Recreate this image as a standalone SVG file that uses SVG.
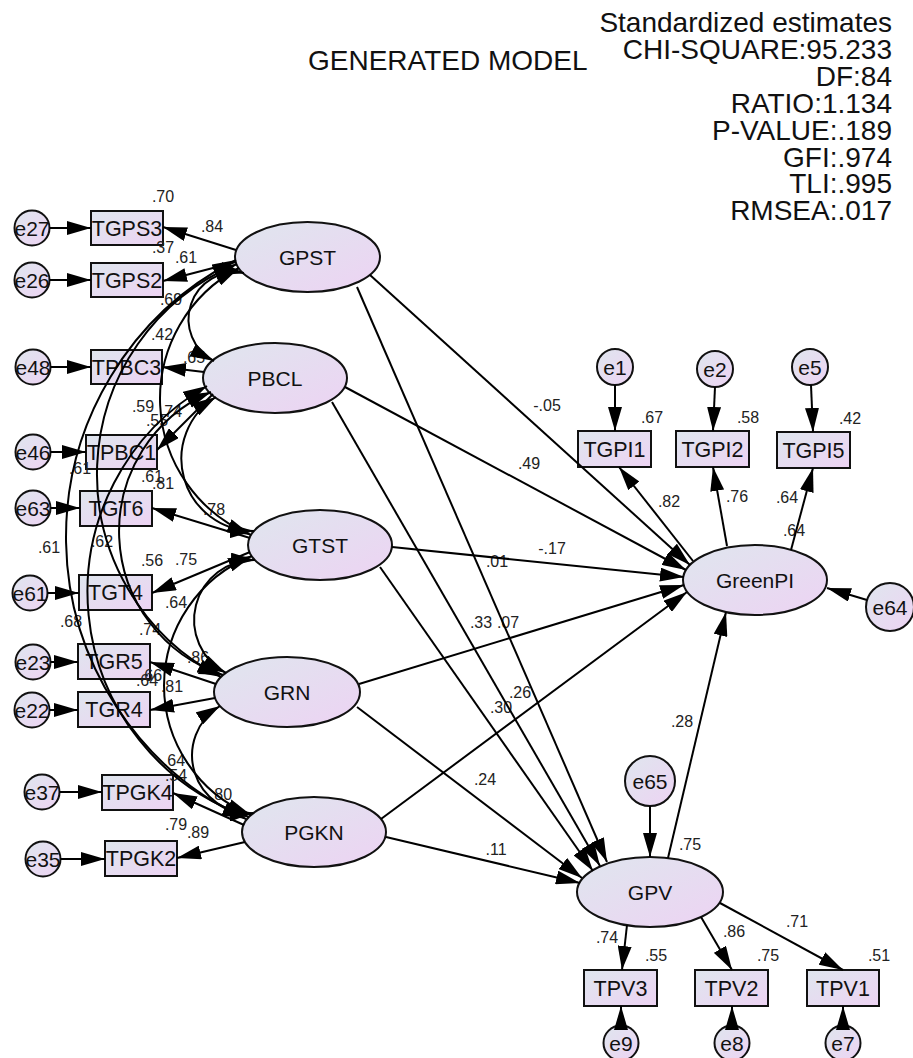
<svg xmlns="http://www.w3.org/2000/svg" width="913" height="1058" viewBox="0 0 913 1058">
<style>
.n{fill:url(#g);stroke:#111;stroke-width:2}
.t{font-family:"Liberation Sans",Arial,sans-serif;font-size:21px;text-anchor:middle;fill:#111}
.b{font-size:21.5px}
.v{font-family:"Liberation Sans",Arial,sans-serif;font-size:16px;text-anchor:middle;fill:#222}
.h{font-family:"Liberation Sans",Arial,sans-serif;font-size:28px;fill:#111}
.c path,.c line{fill:none;stroke:#000;stroke-width:2}
.c line{marker-end:url(#ah)}
.c path{marker-start:url(#ah);marker-end:url(#ah)}
</style>
<defs>
<linearGradient id="g" x1="0" y1="0" x2="1" y2="1">
<stop offset="0" stop-color="#dfe6ee"/>
<stop offset="1" stop-color="#edd3f3"/>
</linearGradient>
<marker id="ah" viewBox="0 0 24 14" refX="24" refY="7" markerWidth="24" markerHeight="14" markerUnits="userSpaceOnUse" orient="auto-start-reverse">
<path d="M0,0L24,7L0,14z" fill="#000"/>
</marker>
</defs>
<rect width="913" height="1058" fill="#fff"/>

<g id="header">
<text class="h" x="308" y="70">GENERATED MODEL</text>
<text class="h" x="892" y="32" text-anchor="end">Standardized estimates</text>
<text class="h" x="892" y="59" text-anchor="end">CHI-SQUARE:95.233</text>
<text class="h" x="892" y="86" text-anchor="end">DF:84</text>
<text class="h" x="892" y="113" text-anchor="end">RATIO:1.134</text>
<text class="h" x="892" y="140" text-anchor="end">P-VALUE:.189</text>
<text class="h" x="892" y="167" text-anchor="end">GFI:.974</text>
<text class="h" x="892" y="193" text-anchor="end">TLI:.995</text>
<text class="h" x="892" y="220" text-anchor="end">RMSEA:.017</text>
</g>

<g id="GPST"><ellipse class="n" cx="307.5" cy="257" rx="72.5" ry="35"/><text class="t" x="307.5" y="264.5">GPST</text></g>
<g id="PBCL"><ellipse class="n" cx="275" cy="378" rx="72" ry="35"/><text class="t" x="275" y="385.5">PBCL</text></g>
<g id="GTST"><ellipse class="n" cx="320" cy="545" rx="72" ry="35"/><text class="t" x="320" y="552.5">GTST</text></g>
<g id="GRN"><ellipse class="n" cx="287" cy="692" rx="73" ry="35"/><text class="t" x="287" y="699.5">GRN</text></g>
<g id="PGKN"><ellipse class="n" cx="314" cy="832" rx="72" ry="35"/><text class="t" x="314" y="839.5">PGKN</text></g>
<g id="GreenPI"><ellipse class="n" cx="755" cy="580" rx="72" ry="35"/><text class="t" x="755" y="587.5">GreenPI</text></g>
<g id="GPV"><ellipse class="n" cx="650" cy="892" rx="73" ry="35"/><text class="t" x="650" y="899.5">GPV</text></g>

<g id="TGPS3"><rect class="n" x="91" y="211" width="72" height="34"/><text class="t b" x="127" y="235.5">TGPS3</text></g>
<g id="TGPS2"><rect class="n" x="91" y="263" width="72" height="34"/><text class="t b" x="127" y="287.5">TGPS2</text></g>
<g id="TPBC3"><rect class="n" x="91" y="350" width="71" height="34"/><text class="t b" x="126.5" y="374.5">TPBC3</text></g>
<g id="TPBC1"><rect class="n" x="86" y="435" width="71" height="34"/><text class="t b" x="121.5" y="459.5">TPBC1</text></g>
<g id="TGT6"><rect class="n" x="80" y="491" width="72" height="35"/><text class="t b" x="116" y="516">TGT6</text></g>
<g id="TGT4"><rect class="n" x="79" y="575" width="73" height="35"/><text class="t b" x="115.5" y="600">TGT4</text></g>
<g id="TGR5"><rect class="n" x="78" y="644" width="72" height="35"/><text class="t b" x="114" y="669">TGR5</text></g>
<g id="TGR4"><rect class="n" x="78" y="692" width="72" height="35"/><text class="t b" x="114" y="717">TGR4</text></g>
<g id="TPGK4"><rect class="n" x="102" y="775" width="71" height="35"/><text class="t b" x="137.5" y="800">TPGK4</text></g>
<g id="TPGK2"><rect class="n" x="105" y="841" width="72" height="35"/><text class="t b" x="141" y="866">TPGK2</text></g>
<g id="TGPI1"><rect class="n" x="578" y="431" width="73" height="36"/><text class="t b" x="614.5" y="456.5">TGPI1</text></g>
<g id="TGPI2"><rect class="n" x="676" y="431" width="73" height="36"/><text class="t b" x="712.5" y="456.5">TGPI2</text></g>
<g id="TGPI5"><rect class="n" x="777" y="432" width="73" height="36"/><text class="t b" x="813.5" y="457.5">TGPI5</text></g>
<g id="TPV3"><rect class="n" x="584" y="970" width="73" height="36"/><text class="t b" x="620.5" y="995.5">TPV3</text></g>
<g id="TPV2"><rect class="n" x="695" y="970" width="73" height="36"/><text class="t b" x="731.5" y="995.5">TPV2</text></g>
<g id="TPV1"><rect class="n" x="807" y="970" width="72" height="36"/><text class="t b" x="843" y="995.5">TPV1</text></g>

<g id="e27"><circle class="n" cx="32" cy="228" r="17.5"/><text class="t" x="32" y="235.5">e27</text></g>
<g id="e26"><circle class="n" cx="32" cy="280" r="17.5"/><text class="t" x="32" y="287.5">e26</text></g>
<g id="e48"><circle class="n" cx="33" cy="367" r="17.5"/><text class="t" x="33" y="374.5">e48</text></g>
<g id="e46"><circle class="n" cx="33" cy="452" r="17.5"/><text class="t" x="33" y="459.5">e46</text></g>
<g id="e63"><circle class="n" cx="33" cy="508" r="17.5"/><text class="t" x="33" y="515.5">e63</text></g>
<g id="e61"><circle class="n" cx="30" cy="593" r="17.5"/><text class="t" x="30" y="600.5">e61</text></g>
<g id="e23"><circle class="n" cx="33" cy="662" r="17.5"/><text class="t" x="33" y="669.5">e23</text></g>
<g id="e22"><circle class="n" cx="32" cy="710" r="17.5"/><text class="t" x="32" y="717.5">e22</text></g>
<g id="e37"><circle class="n" cx="42" cy="792" r="17.5"/><text class="t" x="42" y="799.5">e37</text></g>
<g id="e35"><circle class="n" cx="43" cy="859" r="17.5"/><text class="t" x="43" y="866.5">e35</text></g>
<g id="e1"><circle class="n" cx="615" cy="367" r="18"/><text class="t" x="615" y="374.5">e1</text></g>
<g id="e2"><circle class="n" cx="715" cy="369" r="18"/><text class="t" x="715" y="376.5">e2</text></g>
<g id="e5"><circle class="n" cx="810" cy="367" r="18"/><text class="t" x="810" y="374.5">e5</text></g>
<g id="e64"><circle class="n" cx="890" cy="607" r="24"/><text class="t" x="890" y="614.5">e64</text></g>
<g id="e65"><circle class="n" cx="650" cy="781" r="25"/><text class="t" x="650" y="788.5">e65</text></g>
<g id="e9"><circle class="n" cx="621" cy="1043" r="17.5"/><text class="t" x="621" y="1050.5">e9</text></g>
<g id="e8"><circle class="n" cx="732" cy="1043" r="17.5"/><text class="t" x="732" y="1050.5">e8</text></g>
<g id="e7"><circle class="n" cx="843" cy="1043" r="17.5"/><text class="t" x="843" y="1050.5">e7</text></g>

<g id="labels">
<text class="v" x="163" y="202">.70</text>
<text class="v" x="212" y="232">.84</text>
<text class="v" x="163" y="253">.37</text>
<text class="v" x="186" y="263">.61</text>
<text class="v" x="171" y="305">.69</text>
<text class="v" x="162" y="340">.42</text>
<text class="v" x="194" y="363">.65</text>
<text class="v" x="143" y="412">.59</text>
<text class="v" x="171" y="417">.74</text>
<text class="v" x="157" y="426">.55</text>
<text class="v" x="152" y="482">.61</text>
<text class="v" x="163" y="489">.81</text>
<text class="v" x="80" y="474">.61</text>
<text class="v" x="214" y="515">.78</text>
<text class="v" x="49" y="553">.61</text>
<text class="v" x="102" y="547">.62</text>
<text class="v" x="152" y="566">.56</text>
<text class="v" x="186" y="565">.75</text>
<text class="v" x="176" y="608">.64</text>
<text class="v" x="71" y="627">.68</text>
<text class="v" x="150" y="635">.74</text>
<text class="v" x="198" y="663">.86</text>
<text class="v" x="151" y="681">.66</text>
<text class="v" x="147" y="686">.64</text>
<text class="v" x="172" y="692">.81</text>
<text class="v" x="174" y="766">.64</text>
<text class="v" x="176" y="781">.54</text>
<text class="v" x="221" y="800">.80</text>
<text class="v" x="176" y="830">.79</text>
<text class="v" x="198" y="838">.89</text>
<text class="v" x="547" y="411">-.05</text>
<text class="v" x="529" y="469">.49</text>
<text class="v" x="552" y="554">-.17</text>
<text class="v" x="497" y="567">.01</text>
<text class="v" x="481" y="628">.33</text>
<text class="v" x="508" y="628">.07</text>
<text class="v" x="520" y="698">.26</text>
<text class="v" x="501" y="713">.30</text>
<text class="v" x="485" y="785">.24</text>
<text class="v" x="496" y="855">.11</text>
<text class="v" x="682" y="727">.28</text>
<text class="v" x="652" y="423">.67</text>
<text class="v" x="748" y="423">.58</text>
<text class="v" x="850" y="424">.42</text>
<text class="v" x="669" y="507">.82</text>
<text class="v" x="737" y="502">.76</text>
<text class="v" x="787" y="503">.64</text>
<text class="v" x="794" y="536">.64</text>
<text class="v" x="690" y="850">.75</text>
<text class="v" x="607" y="943">.74</text>
<text class="v" x="656" y="961">.55</text>
<text class="v" x="734" y="937">.86</text>
<text class="v" x="768" y="961">.75</text>
<text class="v" x="797" y="927">.71</text>
<text class="v" x="879" y="961">.51</text>
</g>

<g id="connectors" class="c">
<line x1="49.5" y1="228" x2="91" y2="228"/>
<line x1="49.5" y1="280" x2="91" y2="280"/>
<line x1="50.5" y1="367" x2="91" y2="367"/>
<line x1="50.5" y1="452" x2="86" y2="452"/>
<line x1="50.5" y1="508" x2="80" y2="508"/>
<line x1="47.5" y1="593" x2="79" y2="593"/>
<line x1="50.5" y1="662" x2="78" y2="662"/>
<line x1="49.5" y1="710" x2="78" y2="710"/>
<line x1="59.5" y1="792" x2="102" y2="792"/>
<line x1="60.5" y1="859" x2="105" y2="859"/>
<line x1="236" y1="250" x2="163" y2="227"/>
<line x1="236" y1="262" x2="163" y2="281"/>
<line x1="204" y1="372" x2="162" y2="367"/>
<line x1="213" y1="394" x2="157" y2="450"/>
<line x1="250" y1="538" x2="152" y2="508"/>
<line x1="250" y1="552" x2="152" y2="593"/>
<line x1="216" y1="684" x2="150" y2="662"/>
<line x1="215" y1="698" x2="150" y2="710"/>
<line x1="244" y1="825" x2="173" y2="793"/>
<line x1="245" y1="842" x2="177" y2="858"/>
<line x1="370" y1="275" x2="690" y2="565"/>
<line x1="345" y1="387" x2="686" y2="570"/>
<line x1="392" y1="547" x2="684" y2="577"/>
<line x1="359" y1="684" x2="684" y2="585"/>
<line x1="381" y1="819" x2="687" y2="592"/>
<line x1="357" y1="287" x2="607" y2="862"/>
<line x1="332" y1="402" x2="600" y2="866"/>
<line x1="380" y1="567" x2="593" y2="871"/>
<line x1="357" y1="707" x2="582" y2="878"/>
<line x1="386" y1="837" x2="580" y2="883"/>
<line x1="668" y1="858" x2="726" y2="612"/>
<line x1="693" y1="561" x2="619" y2="467"/>
<line x1="727" y1="546" x2="713" y2="467"/>
<line x1="791" y1="550" x2="813" y2="468"/>
<line x1="867" y1="600" x2="827" y2="588"/>
<line x1="615" y1="385" x2="615" y2="431"/>
<line x1="715" y1="387" x2="713" y2="431"/>
<line x1="811" y1="385" x2="813" y2="432"/>
<line x1="650" y1="806" x2="650" y2="857"/>
<line x1="627" y1="925" x2="622" y2="970"/>
<line x1="701" y1="917" x2="732" y2="970"/>
<line x1="720" y1="903" x2="843" y2="970"/>
<line x1="621" y1="1025.5" x2="621" y2="1006"/>
<line x1="732" y1="1025.5" x2="732" y2="1006"/>
<line x1="843" y1="1025.5" x2="843" y2="1006"/>
<path d="M244,273 A47,47 0 0 0 214,361"/>
<path d="M239,268 A147.6,147.6 0 0 0 251,535"/>
<path d="M237,264 A227.8,227.8 0 0 0 221,677"/>
<path d="M236,260 A310.8,310.8 0 0 0 246,819"/>
<path d="M216,397 A72.3,72.3 0 0 0 254,531"/>
<path d="M211,392 A151.4,151.4 0 0 0 223,675"/>
<path d="M207,386 A237.4,237.4 0 0 0 249,817"/>
<path d="M255,560 A60,60 0 0 0 226,673"/>
<path d="M252,556 A139.6,139.6 0 0 0 251,815"/>
<path d="M220,706 A57.7,57.7 0 0 0 253.5,813"/>
</g>
</svg>
